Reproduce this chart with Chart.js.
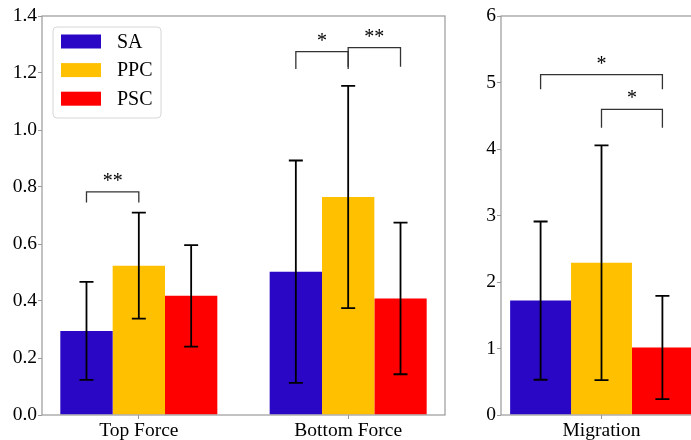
<!DOCTYPE html>
<html>
<head>
<meta charset="utf-8">
<script src="https://cdn.jsdelivr.net/npm/chart.js@4"></script>
<style>
  html, body { margin: 0; padding: 0; background: #fff; overflow: hidden; width: 691px; height: 440px; }
  #forceChart { position: absolute; left: 0; top: 0; }
  #migChart { position: absolute; left: 460px; top: 0; }
  #warm { position: absolute; left: -9999px; top: 0; font-family: 'Liberation Serif', 'DejaVu Serif', serif; font-size: 20px; }
</style>
</head>
<body>
<div id="warm">Top Force Bottom Force Migration SA PPC PSC 0.123456789 *</div>
<canvas id="forceChart" width="460" height="440"></canvas>
<canvas id="migChart" width="250" height="440"></canvas>
<script>
// ===== DATA =====
const groups = ['SA', 'PPC', 'PSC'];
const forceLabels = ['Top Force', 'Bottom Force'];
const migLabels = ['Migration'];

const saForce = [0.295, 0.503];
const saForceErr = [0.172, 0.390];
const ppcForce = [0.524, 0.765];
const ppcForceErr = [0.186, 0.390];
const pscForce = [0.418, 0.409];
const pscForceErr = [0.178, 0.266];

const saMig = [1.72];
const saMigErr = [1.19];
const ppcMig = [2.29];
const ppcMigErr = [1.765];
const pscMig = [1.015];
const pscMigErr = [0.775];

const forceTicks = [0, 0.2, 0.4, 0.6, 0.8, 1.0, 1.2, 1.4];
const migTicks = [0, 1, 2, 3, 4, 5, 6];

// significance brackets: category, bar from/to (dataset index), bracket level, leg end, stars
const forceBrackets = [
  { cat: 0, from: 0, to: 1, y: 0.783, drop: 0.746, mark: '**' },
  { cat: 1, from: 0, to: 1, y: 1.275, drop: 1.214, mark: '*' },
  { cat: 1, from: 1, to: 2, y: 1.289, drop: 1.222, mark: '**' }
];
const migBrackets = [
  { cat: 0, from: 0, to: 2, y: 5.117, drop: 4.898, mark: '*' },
  { cat: 0, from: 1, to: 2, y: 4.597, drop: 4.320, mark: '*' }
];

// ===== STYLE =====
const colors = ['#2907c4', '#ffc000', '#ff0000'];
const FONT = "'Liberation Serif', 'DejaVu Serif', serif";
const SPINE = '#999999';

// ===== PLUGINS =====
const frame = {
  id: 'frame',
  afterDatasetsDraw(chart) {
    const { ctx, chartArea: a } = chart;
    ctx.save();
    ctx.strokeStyle = SPINE;
    ctx.lineWidth = 1.2;
    ctx.strokeRect(a.left, a.top, a.right - a.left, a.bottom - a.top);
    ctx.restore();
  }
};

const errorBars = {
  id: 'errorBars',
  afterDatasetsDraw(chart) {
    const ctx = chart.ctx, y = chart.scales.y;
    ctx.save();
    ctx.strokeStyle = '#000';
    ctx.lineWidth = 1.8;
    chart.data.datasets.forEach((ds, i) => {
      chart.getDatasetMeta(i).data.forEach((bar, j) => {
        const v = ds.data[j].y, e = ds.errors[j];
        const top = y.getPixelForValue(v + e), bot = y.getPixelForValue(v - e);
        ctx.beginPath();
        ctx.moveTo(bar.x, top); ctx.lineTo(bar.x, bot);
        ctx.moveTo(bar.x - 7, top); ctx.lineTo(bar.x + 7, top);
        ctx.moveTo(bar.x - 7, bot); ctx.lineTo(bar.x + 7, bot);
        ctx.stroke();
      });
    });
    ctx.restore();
  }
};

const sigBrackets = {
  id: 'sigBrackets',
  afterDraw(chart, args, opts) {
    const ctx = chart.ctx, y = chart.scales.y;
    ctx.save();
    ctx.strokeStyle = '#333';
    ctx.lineWidth = 1.3;
    ctx.fillStyle = '#000';
    ctx.font = '20px ' + FONT;
    ctx.textAlign = 'center';
    ctx.textBaseline = 'alphabetic';
    (opts.list || []).forEach(b => {
      const x1 = chart.getDatasetMeta(b.from).data[b.cat].x;
      const x2 = chart.getDatasetMeta(b.to).data[b.cat].x;
      const yl = y.getPixelForValue(b.y), yd = y.getPixelForValue(b.drop);
      ctx.beginPath();
      ctx.moveTo(x1, yd); ctx.lineTo(x1, yl); ctx.lineTo(x2, yl); ctx.lineTo(x2, yd);
      ctx.stroke();
      ctx.fillText(b.mark, (x1 + x2) / 2, yl - 5);
    });
    ctx.restore();
  }
};

const boxLegend = {
  id: 'boxLegend',
  afterDraw(chart) {
    const { ctx, chartArea: a } = chart;
    const bx = a.left + 11, by = a.top + 11, bw = 108, bh = 91;
    ctx.save();
    ctx.fillStyle = 'rgba(255,255,255,0.8)';
    ctx.strokeStyle = '#d6d6d6';
    ctx.lineWidth = 1;
    ctx.beginPath();
    ctx.roundRect(bx, by, bw, bh, 4);
    ctx.fill();
    ctx.stroke();
    ctx.font = '20px ' + FONT;
    ctx.textBaseline = 'middle';
    ctx.textAlign = 'left';
    chart.data.datasets.forEach((ds, i) => {
      const cy = by + 14.5 + i * 28.6;
      ctx.fillStyle = ds.backgroundColor;
      ctx.fillRect(bx + 8, cy - 7, 40, 14);
      ctx.fillStyle = '#000';
      ctx.fillText(ds.label, bx + 64, cy + 1);
    });
    ctx.restore();
  }
};

// ===== CHART BUILDER =====
function makeChart(id, labels, series, errs, yTicks, fmt, opt) {
  const datasets = groups.map((g, k) => ({
    label: g,
    data: labels.map((_, i) => ({ x: i, y: series[k][i] })),
    errors: errs[k],
    backgroundColor: colors[k],
    borderWidth: 0,
    categoryPercentage: opt.catPct,
    barPercentage: 1
  }));
  const yMax = yTicks[yTicks.length - 1];
  return new Chart(document.getElementById(id), {
    type: 'bar',
    data: { datasets },
    plugins: [frame, errorBars, sigBrackets].concat(opt.legend ? [boxLegend] : []),
    options: {
      responsive: false,
      animation: false,
      layout: { padding: { top: 16, right: opt.padRight, left: 0, bottom: 0 } },
      plugins: {
        legend: { display: false },
        tooltip: { enabled: false },
        sigBrackets: { list: opt.brackets }
      },
      scales: {
        x: {
          type: 'linear',
          min: opt.xMin,
          max: opt.xMax,
          offset: false,
          grid: { display: true, drawOnChartArea: false, drawTicks: true, tickLength: 4, color: SPINE, offset: false },
          border: { display: false },
          afterBuildTicks: s => { s.ticks = labels.map((_, i) => ({ value: i })); },
          afterFit: s => { s.height = 25; },
          ticks: {
            autoSkip: false,
            maxRotation: 0,
            padding: 0,
            color: '#000',
            font: { family: FONT, size: 19.5 },
            callback: v => labels[v]
          }
        },
        y: {
          min: 0,
          max: yMax,
          grid: { display: true, drawOnChartArea: false, drawTicks: true, tickLength: 4, color: SPINE },
          border: { display: false },
          afterBuildTicks: s => { s.ticks = yTicks.map(v => ({ value: v })); },
          afterFit: s => { s.width = opt.yWidth; },
          ticks: {
            padding: 1,
            color: '#000',
            font: { family: FONT, size: 19.5 },
            callback: v => fmt(v)
          }
        }
      }
    }
  });
}

function drawAll() {
  makeChart('forceChart', forceLabels,
    [saForce, ppcForce, pscForce], [saForceErr, ppcForceErr, pscForceErr],
    forceTicks, v => v.toFixed(1),
    { xMin: -0.4625, xMax: 1.4625, catPct: 0.75, yWidth: 42, padRight: 15, brackets: forceBrackets, legend: true });

  // single category: bar ruler uses the whole axis length, so scale the group to 0.75 units
  const migMin = -0.4125, migMax = 0.4125;
  makeChart('migChart', migLabels,
    [saMig, ppcMig, pscMig], [saMigErr, ppcMigErr, pscMigErr],
    migTicks, v => String(v),
    { xMin: migMin, xMax: migMax, catPct: 0.75 / (migMax - migMin), yWidth: 41, padRight: 8, brackets: migBrackets, legend: false });
}

// make sure the serif face is ready before the canvas text is measured
Promise.all([
  document.fonts.load("20px 'Liberation Serif'"),
  document.fonts.load("20px 'DejaVu Serif'")
]).catch(() => {}).then(() => document.fonts.ready).then(drawAll);
</script>
</body>
</html>
